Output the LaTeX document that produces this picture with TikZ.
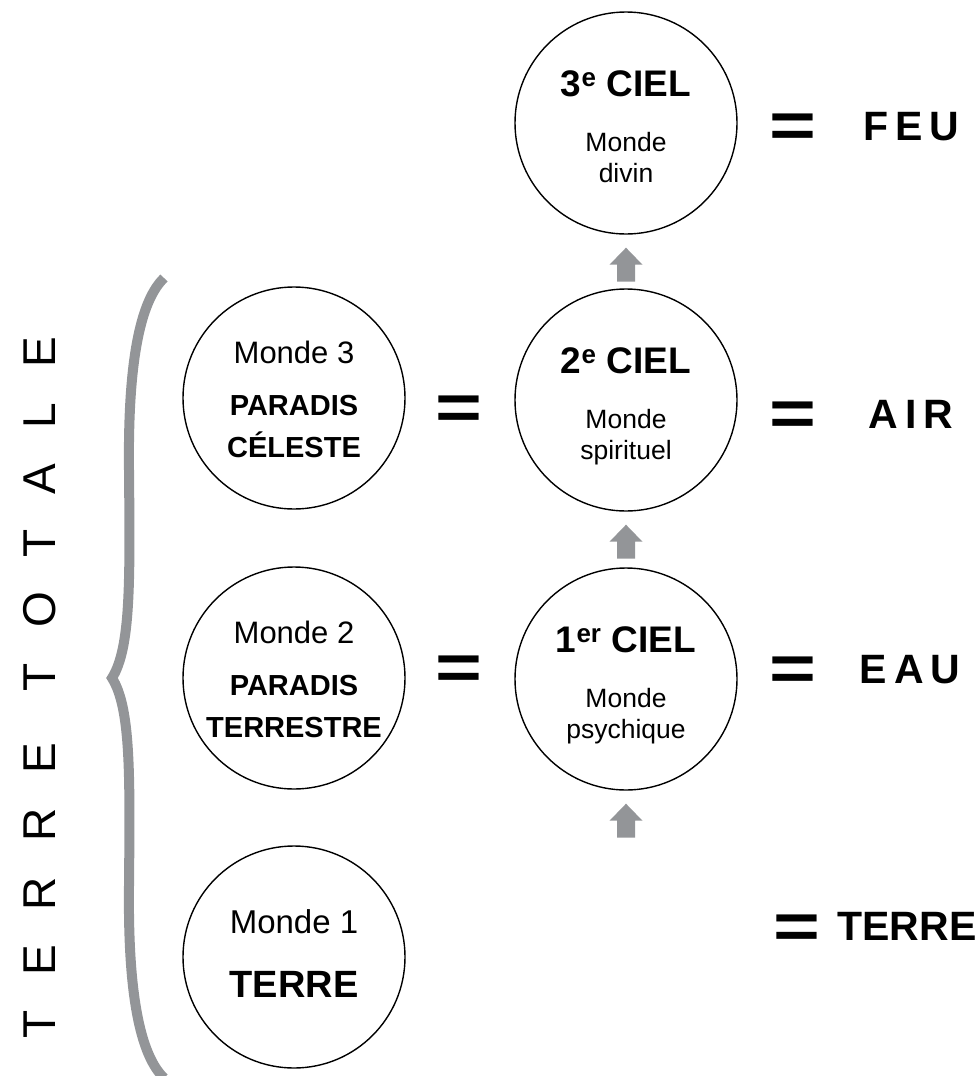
\documentclass[tikz,border=0pt]{standalone}
\usepackage{fontspec}
\setmainfont{Liberation Sans}
\usetikzlibrary{calc}
\definecolor{cgray}{RGB}{147,149,152}
\newcommand\cielfont{\fontsize{37}{40}\bfseries\selectfont}
\newcommand\subfont{\fontsize{26.5}{30}\selectfont}
\newcommand\mondefont{\fontsize{31}{34}\selectfont}
\newcommand\parfont{\fontsize{29}{32}\bfseries\selectfont}
\newcommand\terrefont{\fontsize{38}{42}\bfseries\selectfont}
\newcommand\elemfont{\fontsize{41}{44}\bfseries\selectfont}
\newcommand\eqsign{\fontsize{68}{70}\bfseries\selectfont\scalebox{1.18}[0.95]{=}}
\newcommand\totfont{\fontsize{46}{48}\selectfont}
\newcommand\gap{\hspace{7pt}}
\begin{document}
\begin{tikzpicture}[x=1pt,y=-1pt,
  world/.style={circle,draw=black,line width=1.4pt,minimum size=222pt,inner sep=0pt},
  lbl/.style={anchor=base,inner sep=0pt,align=center},
  eqs/.style={inner sep=0pt,anchor=center},
  blockarrow/.style={fill=cgray,draw=none}]
\useasboundingbox (0,0) rectangle (977,1076);
% circles
\node[world] (L3) at (294,398) {};
\node[world] (L2) at (294,678) {};
\node[world] (L1) at (294,957) {};
\node[world] (R3) at (626,123) {};
\node[world] (R2) at (626,400) {};
\node[world] (R1) at (626,679) {};
% left texts
\node[lbl] (L3a) at ($(L3)+(0,-35)$) {\mondefont Monde 3};
\node[lbl] (L3b) at ($(L3)+(0,17)$) {\parfont PARADIS};
\node[lbl] (L3c) at ($(L3)+(0,59)$) {\parfont CÉLESTE};
\node[lbl] (L2a) at ($(L2)+(0,-35)$) {\mondefont Monde 2};
\node[lbl] (L2b) at ($(L2)+(0,17)$) {\parfont PARADIS};
\node[lbl] (L2c) at ($(L2)+(0,59)$) {\parfont TERRESTRE};
\node[lbl] (L1a) at ($(L1)+(0,-24)$) {\fontsize{33}{36}\selectfont Monde 1};
\node[lbl] (L1b) at ($(L1)+(0,40)$) {\terrefont TERRE};
% right texts
\node[lbl] (R3a) at ($(R3)+(0,-27)$) {\cielfont 3\textsuperscript{e} CIEL};
\node[lbl] (R3b) at ($(R3)+(0,28)$) {\subfont Monde};
\node[lbl] (R3c) at ($(R3)+(0,59)$) {\subfont divin};
\node[lbl] (R2a) at ($(R2)+(0,-27)$) {\cielfont 2\textsuperscript{e} CIEL};
\node[lbl] (R2b) at ($(R2)+(0,28)$) {\subfont Monde};
\node[lbl] (R2c) at ($(R2)+(0,59)$) {\subfont spirituel};
\node[lbl] (R1a) at ($(R1)+(0,-27)$) {\cielfont 1\textsuperscript{er} CIEL};
\node[lbl] (R1b) at ($(R1)+(0,28)$) {\subfont Monde};
\node[lbl] (R1c) at ($(R1)+(0,59)$) {\subfont psychique};
% block arrows
\coordinate (A3) at ($(R3.south)+(0,13)$);
\coordinate (A2) at ($(R2.south)+(0,13)$);
\coordinate (A1) at ($(R1.south)+(0,13)$);
\foreach \a in {A3,A2,A1}{
  \fill[blockarrow] (\a) -- ++(16.5,17) -- ++(-7.5,0) -- ++(0,17) -- ++(-18,0) -- ++(0,-17) -- ++(-7.5,0) -- cycle;
}
% equals in middle
\node[eqs] (m3) at (459,413) {\eqsign};
\node[eqs] (m2) at (459,673) {\eqsign};
% right equals and elements
\node[eqs] (e3) at (793,131) {\eqsign};
\node[eqs] (e2) at (793,419) {\eqsign};
\node[eqs] (e1) at (793,674) {\eqsign};
\node[eqs] (e0) at (797,932) {\eqsign};
\node[lbl] (feu) at (911,140) {\elemfont F\gap E\gap U};
\node[lbl] (air) at (911,428) {\elemfont A\gap I\gap R};
\node[lbl] (eau) at (910,683) {\elemfont E\gap A\gap U};
\node[lbl] (terre) at (907,940) {\elemfont TERRE};
% brace
\draw[cgray,line width=10pt,line join=miter]
  (164,278) .. controls (136,305) and (128,380) .. (129,470)
  .. controls (130,580) and (131,648) .. (112,678)
  .. controls (131,708) and (130,776) .. (129,886)
  .. controls (128,976) and (136,1051) .. (164,1078);
% vertical text
\node[rotate=90,inner sep=0pt] (tt) at (40,688)
  {\totfont T\hspace{35pt}E\hspace{35pt}R\hspace{35pt}R\hspace{35pt}E\hspace{52pt}T\hspace{35pt}O\hspace{35pt}T\hspace{35pt}A\hspace{35pt}L\hspace{35pt}E};
\end{tikzpicture}
\end{document}
